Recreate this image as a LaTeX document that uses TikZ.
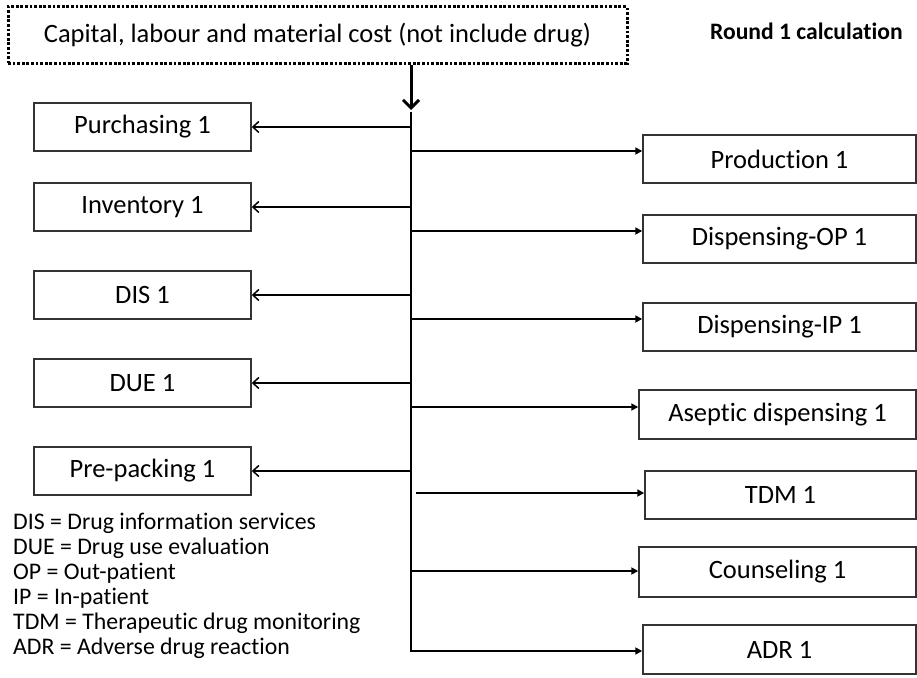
\documentclass[tikz,border=0pt]{standalone}
\usepackage{fontspec}
\setmainfont{Carlito}[Ligatures={NoCommon,NoRequired,NoContextual,NoRare},RawFeature={-calt}]
\usetikzlibrary{arrows.meta}
\begin{document}
\begin{tikzpicture}[x=1pt,y=-1pt,
  box/.style={draw=black!80, line width=1.5pt, fill=white, inner sep=0pt,
    font=\fontsize{26.5}{30}\selectfont},
  lbox/.style={box, minimum width=217pt, minimum height=48pt},
  rbox/.style={box, minimum height=48pt},
  topbox/.style={draw=black, line width=3pt, dash pattern=on 2.8pt off 1.8pt,
    inner sep=0pt, minimum width=619pt, minimum height=56pt,
    font=\fontsize{26.5}{30}\selectfont},
  larrow/.style={draw=black, line width=1.7pt, -{Straight Barb[length=6pt,width=11pt,line width=1.5pt]}},
  rarrow/.style={draw=black, line width=1.7pt, -{Triangle[length=7pt,width=7pt]}},
  downarrow/.style={draw=black, line width=3pt, -{Straight Barb[length=8pt,width=16pt,line width=3pt]}},
  trunk/.style={draw=black, line width=2.8pt},
  legend/.style={anchor=base west, inner sep=0pt, font=\fontsize{23.8}{25}\selectfont},
  title/.style={anchor=west, inner sep=0pt, font=\fontsize{23.6}{26}\selectfont\bfseries}
]
\useasboundingbox (0,0) rectangle (917,677);

% top dotted box
\node[topbox] (top) at (317.5,35) {Capital, labour and material cost (not include drug)};
\node[title] (round) at (710,31) {Round 1 calculation};

% trunk coordinates
\coordinate (jt) at (411,110);
\coordinate (jb) at (411,651);

% left boxes
\node[lbox] (purch) at (142.5,127) {Purchasing 1};
\node[lbox] (inv)   at (142.5,207) {Inventory 1};
\node[lbox] (dis)   at (142.5,295) {DIS 1};
\node[lbox] (due)   at (142.5,383) {DUE 1};
\node[lbox] (prep)  at (142.5,471) {Pre-packing 1};

% right boxes
\node[rbox, minimum width=273pt] (prod)  at (779.5,159) {Production 1};
\node[rbox, minimum width=273pt] (dop)   at (779.5,239) {Dispensing-OP 1};
\node[rbox, minimum width=273pt] (dip)   at (779.5,327) {Dispensing-IP 1};
\node[rbox, minimum width=277pt, minimum height=49pt] (asep)  at (777.5,414.5) {Aseptic dispensing 1};
\node[rbox, minimum width=271pt] (tdm)   at (780.5,495) {TDM 1};
\node[rbox, minimum width=277pt, minimum height=50pt] (couns) at (777.5,572) {Counseling 1};
\node[rbox, minimum width=273pt, minimum height=49pt] (adr)   at (779.5,649.5) {ADR 1};

% down arrow and trunk
\draw[downarrow] (jt |- top.south) -- (jt);
\draw[trunk] ([yshift=-2pt]jt) -- (jb);

% left arrows
\foreach \b in {purch,inv,dis,due,prep}
  \draw[larrow] (jt |- \b.east) -- (\b.east);

% right arrows
\coordinate (r1) at (411,151);
\coordinate (r2) at (411,231);
\coordinate (r3) at (411,319);
\coordinate (r4) at (411,407);
\coordinate (r5) at (416,493);
\coordinate (r6) at (411,571);
\draw[rarrow] (r1) -- (r1 -| prod.west);
\draw[rarrow] (r2) -- (r2 -| dop.west);
\draw[rarrow] (r3) -- (r3 -| dip.west);
\draw[rarrow] (r4) -- (r4 -| asep.west);
\draw[rarrow] (r5) -- (r5 -| tdm.west);
\draw[rarrow] (r6) -- (r6 -| couns.west);
\draw[rarrow] ([xshift=-1.4pt]jb) -- (jb -| adr.west);

% legend
\node[legend] (l1) at (13,529) {DIS = Drug information services};
\node[legend] (l2) at (13,554) {DUE = Drug use evaluation};
\node[legend] (l3) at (13,579) {OP = Out-patient};
\node[legend] (l4) at (13,604) {IP = In-patient};
\node[legend] (l5) at (13,629) {TDM = Therapeutic drug monitoring};
\node[legend] (l6) at (13,654) {ADR = Adverse drug reaction};
\end{tikzpicture}
\end{document}
